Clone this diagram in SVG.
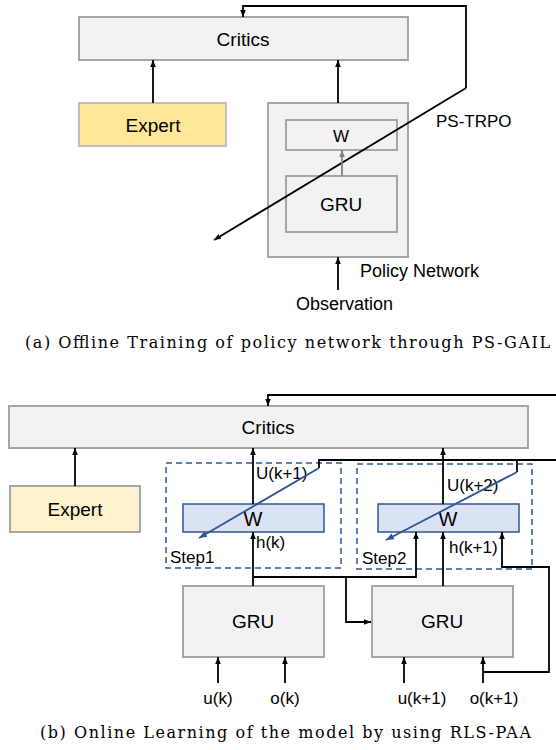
<svg xmlns="http://www.w3.org/2000/svg" width="556" height="750" viewBox="0 0 556 750">
<style>
.box{fill:#F2F2F2;stroke:#A6A6A6;stroke-width:2}
.wb{fill:#DAE3F3;stroke:#2F5597;stroke-width:1.5}
.dash{fill:none;stroke:#2F5597;stroke-width:1.5;stroke-dasharray:6,4}
.t{font-family:"Liberation Sans",Arial,sans-serif;fill:#000}
.c{text-anchor:middle}
.cap{font-family:"DejaVu Serif","Liberation Serif",serif;font-size:16px;fill:#000}
.ln{fill:none;stroke:#000;stroke-width:1.8}
.bl{fill:none;stroke:#2F5597;stroke-width:1.8}
</style>
<defs>
<marker id="ah" viewBox="0 0 10 10" refX="10" refY="5" markerWidth="7" markerHeight="7" markerUnits="userSpaceOnUse" orient="auto"><path d="M0,1 L10,5 L0,9 z" fill="#000"/></marker>
<marker id="ahg" viewBox="0 0 10 10" refX="10" refY="5" markerWidth="7" markerHeight="7" markerUnits="userSpaceOnUse" orient="auto"><path d="M0,1 L10,5 L0,9 z" fill="#808080"/></marker>
<marker id="ahb" viewBox="0 0 10 10" refX="10" refY="5" markerWidth="8" markerHeight="8" markerUnits="userSpaceOnUse" orient="auto"><path d="M0,1 L10,5 L0,9 z" fill="#2F5597"/></marker>
</defs>

<!-- Diagram (a) -->
<g id="a-critics"><rect class="box" x="79" y="17" width="329" height="43"/><text class="t c" x="243" y="46" font-size="19">Critics</text></g>
<g id="a-expert"><rect x="79" y="103" width="147" height="43" fill="#FFE699" stroke="#BFBFBF" stroke-width="2"/><text class="t c" x="153" y="132" font-size="19">Expert</text></g>
<g id="a-policy"><rect class="box" x="268" y="103" width="140" height="154"/></g>
<g id="a-w"><rect class="box" x="286" y="120" width="111" height="30"/><text class="t c" x="341" y="142" font-size="17">W</text></g>
<g id="a-gru"><rect class="box" x="286" y="176" width="111" height="56"/><text class="t c" x="341" y="211" font-size="19">GRU</text></g>
<g id="a-labels">
<text class="t" x="436" y="127" font-size="17">PS-TRPO</text>
<text class="t" x="360" y="277" font-size="18">Policy Network</text>
<text class="t" x="296" y="310" font-size="18">Observation</text>
</g>
<g id="a-connectors">
<path class="ln" d="M466,88 V6 H243 V17" marker-end="url(#ah)"/>
<path class="ln" d="M466,88 L214,240" marker-end="url(#ah)"/>
<path class="ln" d="M153,103 V60" marker-end="url(#ah)"/>
<path class="ln" d="M338,103 V60" marker-end="url(#ah)"/>
<path d="M342,176 V150" fill="none" stroke="#808080" stroke-width="1.8" marker-end="url(#ahg)"/>
<path class="ln" d="M338,290 V257" marker-end="url(#ah)"/>
</g>
<text class="cap" x="25" y="348" textLength="525" lengthAdjust="spacing">(a) Offline Training of policy network through PS-GAIL</text>

<!-- Diagram (b) -->
<g id="b-critics"><rect class="box" x="9" y="406" width="519" height="42"/><text class="t c" x="268" y="434" font-size="19">Critics</text></g>
<g id="b-expert"><rect x="10" y="486" width="130" height="46" fill="#FFF2CC" stroke="#A6A6A6" stroke-width="2"/><text class="t c" x="75" y="516" font-size="19">Expert</text></g>
<g id="b-step1"><rect class="dash" x="166" y="463" width="175" height="105"/><text class="t" x="170" y="563" font-size="17">Step1</text></g>
<g id="b-step2"><rect class="dash" x="357" y="464" width="175" height="105"/><text class="t" x="362" y="564" font-size="17">Step2</text></g>
<g id="b-w1"><rect class="wb" x="183" y="504" width="141" height="28"/><text class="t c" x="253" y="526" font-size="20">W</text></g>
<g id="b-w2"><rect class="wb" x="378" y="504" width="141" height="28"/><text class="t c" x="448" y="526" font-size="20">W</text></g>
<g id="b-gru1"><rect class="box" x="183" y="586" width="141" height="71"/><text class="t c" x="253" y="628" font-size="19">GRU</text></g>
<g id="b-gru2"><rect class="box" x="372" y="586" width="141" height="71"/><text class="t c" x="442" y="628" font-size="19">GRU</text></g>
<g id="b-labels">
<text class="t" x="256" y="479" font-size="17">U(k+1)</text>
<text class="t" x="256" y="548" font-size="17">h(k)</text>
<text class="t" x="447" y="491" font-size="17">U(k+2)</text>
<text class="t" x="449" y="553" font-size="17">h(k+1)</text>
<text class="t c" x="218" y="704" font-size="17">u(k)</text>
<text class="t c" x="285" y="704" font-size="17">o(k)</text>
<text class="t c" x="422" y="704" font-size="17">u(k+1)</text>
<text class="t c" x="494" y="704" font-size="17">o(k+1)</text>
</g>
<g id="b-connectors">
<path class="ln" d="M556,395 H268 V406" marker-end="url(#ah)"/>
<path class="ln" d="M75,486 V448" marker-end="url(#ah)"/>
<path class="ln" d="M253,586 V532" marker-end="url(#ah)"/>
<path class="ln" d="M253,504 V448" marker-end="url(#ah)"/>
<path class="ln" d="M443,586 V532" marker-end="url(#ah)"/>
<path class="ln" d="M443,504 V448" marker-end="url(#ah)"/>
<path class="ln" d="M556,460 H319 V468"/>
<path class="ln" d="M517,460 V472"/>
<path class="bl" d="M319,468 L199,538" marker-end="url(#ahb)"/>
<path class="bl" d="M517,472 L386,540" marker-end="url(#ahb)"/>
<path class="ln" d="M253,577 H416 V532" marker-end="url(#ah)"/>
<path class="ln" d="M346,577 V622 H371" marker-end="url(#ah)"/>
<path class="ln" d="M218,683 V657" marker-end="url(#ah)"/>
<path class="ln" d="M285,683 V657" marker-end="url(#ah)"/>
<path class="ln" d="M404,683 V657" marker-end="url(#ah)"/>
<path class="ln" d="M483,683 V657" marker-end="url(#ah)"/>
<path class="ln" d="M483,672 H549 V567 H502 V532" marker-end="url(#ah)"/>
</g>
<text class="cap" x="40" y="738" textLength="491" lengthAdjust="spacing">(b) Online Learning of the model by using RLS-PAA</text>
</svg>
